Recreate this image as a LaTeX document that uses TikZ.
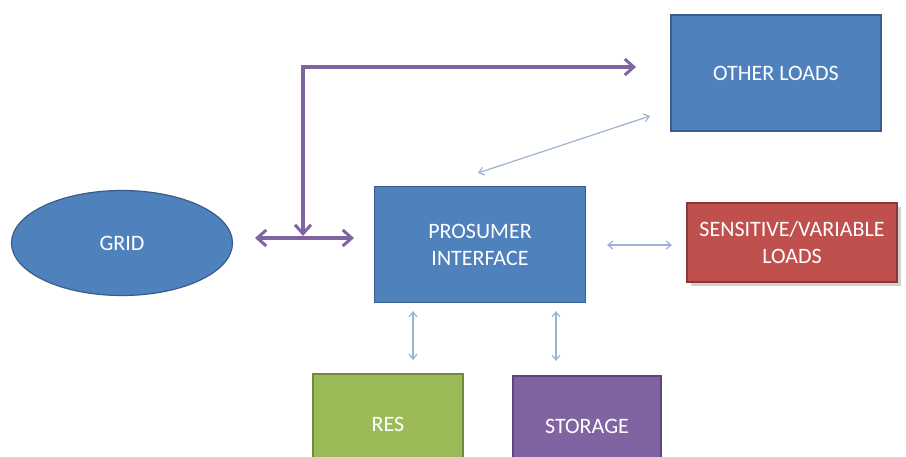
\documentclass[tikz,border=0pt]{standalone}
\usepackage{fontspec}
\setmainfont{Carlito}
\usetikzlibrary{arrows.meta,shapes.geometric}
\definecolor{ofblue}{HTML}{4F81BD}
\definecolor{ofblueD}{HTML}{385D8A}
\definecolor{ofred}{HTML}{C0504D}
\definecolor{ofredD}{HTML}{8C3836}
\definecolor{ofgreen}{HTML}{9BBB59}
\definecolor{ofgreenD}{HTML}{71893F}
\definecolor{ofpurple}{HTML}{8064A2}
\definecolor{ofpurpleD}{HTML}{5C4776}
\definecolor{thinarr}{HTML}{9DB3D6}
\tikzset{
  x=1pt,y=-1pt,
  box/.style={rectangle,inner sep=0pt,line width=1.2pt,text=white,align=center,
    font=\fontsize{22}{27}\selectfont},
  bluebox/.style={box,fill=ofblue,draw=ofblueD},
  thick arrow/.style={draw=ofpurple,line width=4pt,
    arrows={Straight Barb[length=9pt,width=16pt,line width=3pt]-Straight Barb[length=9pt,width=16pt,line width=3pt]}},
  thick single/.style={draw=ofpurple,line width=4pt,
    -{Straight Barb[length=9pt,width=16pt,line width=3pt]}},
  thin arrow/.style={draw=thinarr,line width=1.2pt,
    {Straight Barb[length=5pt,width=8pt]}-{Straight Barb[length=5pt,width=8pt]}},
}
\begin{document}
\begin{tikzpicture}
\useasboundingbox (0,0) rectangle (906,456);
\fill[white] (0,0) rectangle (906,456);
% shadow of sensitive box
\fill[black!18] (691,207) rectangle (901,286);
% nodes
\node[bluebox,ellipse,minimum width=221pt,minimum height=105pt] (grid) at (122,243) {GRID};
\node[bluebox,minimum width=211pt,minimum height=116pt] (pi) at (480,244.5) {PROSUMER\\INTERFACE};
\node[bluebox,minimum width=210pt,minimum height=116pt] (other) at (776,73) {OTHER LOADS};
\node[box,fill=ofred,draw=ofredD,minimum width=210pt,minimum height=79pt] (sens) at (792,242.5) {SENSITIVE/VARIABLE\\LOADS};
\node[box,fill=ofgreen,draw=ofgreenD,minimum width=150pt,minimum height=100pt] (res) at (388,424) {RES};
\node[box,fill=ofpurple,draw=ofpurpleD,minimum width=148pt,minimum height=100pt] (stor) at (587,426) {STORAGE};
% thick purple connectors
\coordinate (corner) at (303,67);
\coordinate (topend) at (636,67);
\coordinate (junc) at (303,236);
\coordinate (gl) at (255,238);
\coordinate (gr) at (354,238);
\draw[thick arrow] (gl) -- (gr);
\draw[thick single] (corner) -- (topend);
\draw[thick single,line cap=rect] (corner) -- (junc);
% thin connectors
\coordinate (t1) at (478,173);
\coordinate (t2) at (650,116);
\draw[thin arrow] (t1) -- (t2);
\coordinate (s1) at (607,245);
\coordinate (s2) at (672,245);
\draw[thin arrow] (s1) -- (s2);
\coordinate (r1) at (413,311);
\coordinate (r2) at (413,360);
\draw[thin arrow] (r1) -- (r2);
\coordinate (st1) at (556,311);
\coordinate (st2) at (556,361);
\draw[thin arrow] (st1) -- (st2);
\end{tikzpicture}
\end{document}
